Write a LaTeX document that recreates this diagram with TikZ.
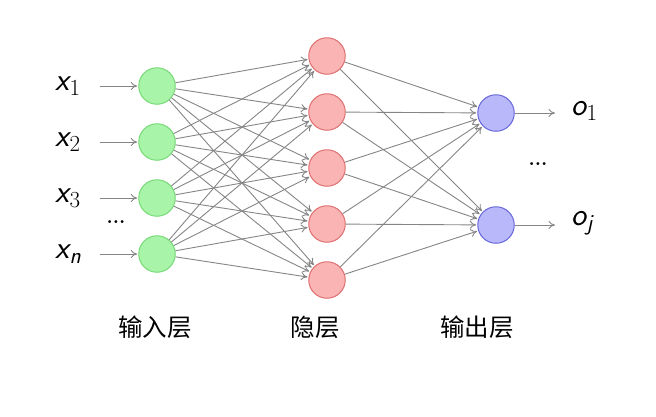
\documentclass[tikz,border=0pt]{standalone}
\usepackage{fontspec}
\newfontfamily\cjk{Noto Sans CJK SC}
\usetikzlibrary{arrows.meta}
\definecolor{gfill}{HTML}{A8F4A8}
\definecolor{gdraw}{HTML}{78DA78}
\definecolor{rfill}{HTML}{FAB4B4}
\definecolor{rdraw}{HTML}{DE7070}
\definecolor{bfill}{HTML}{B8B8FA}
\definecolor{bdraw}{HTML}{6868DA}
\definecolor{edgegray}{HTML}{858585}
\newcommand\mysub[1]{\raisebox{-5pt}{\fontsize{23}{25}\selectfont #1}}
\newcommand\myvar[2]{{\sffamily\itshape #1}\kern0.5pt\mysub{#2}}
\begin{document}
\begin{tikzpicture}[x=1pt,y=-1pt,
  neuron/.style={circle,minimum size=36.5pt,inner sep=0pt,line width=1pt},
  inn/.style={neuron,fill=gfill,draw=gdraw},
  hid/.style={neuron,fill=rfill,draw=rdraw},
  outn/.style={neuron,fill=bfill,draw=bdraw},
  conn/.style={draw=edgegray,line width=0.9pt,-{To[length=6.5pt,width=8pt]},shorten >=1pt},
  lab/.style={font=\fontsize{32}{36}\selectfont,inner sep=0pt},
  layerlab/.style={font=\cjk\fontsize{24.5}{28}\selectfont,inner sep=0pt},
  dots/.style={font=\bfseries\fontsize{20}{22}\selectfont,inner sep=0pt}]
\useasboundingbox (0,0) rectangle (656,416);
% input layer
\foreach \i/\y in {1/86,2/142,3/198,4/254}{
  \node[inn] (i\i) at (157,\y) {};
}
% hidden layer
\foreach \i/\y in {1/56,2/112,3/168,4/224,5/280}{
  \node[hid] (h\i) at (327,\y) {};
}
% output layer
\node[outn] (o1) at (496,113) {};
\node[outn] (o2) at (496,225) {};
% input labels
\node[lab,anchor=west] (x1) at (55,86) {\myvar{x}{1}};
\node[lab,anchor=west] (x2) at (55,142) {\myvar{x}{2}};
\node[lab,anchor=west] (x3) at (55,198) {\myvar{x}{3}};
\node[lab,anchor=west] (xn) at (55,254) {\myvar{x}{\sffamily\itshape n}};
\node[dots] (idots) at (116,222) {...};
\foreach \i/\y in {1/86,2/142,3/198,4/254}{
  \coordinate (s\i) at (100,\y);
  \draw[conn] (s\i) -- (i\i);
}
% connections input->hidden
\foreach \i in {1,...,4}{
  \foreach \j in {1,...,5}{
    \draw[conn] (i\i) -- (h\j);
  }
}
% connections hidden->output
\foreach \j in {1,...,5}{
  \foreach \k in {1,2}{
    \draw[conn] (h\j) -- (o\k);
  }
}
% outputs
\coordinate (e1) at (555,113);
\coordinate (e2) at (555,225);
\draw[conn,shorten >=0pt] (o1) -- (e1);
\draw[conn,shorten >=0pt] (o2) -- (e2);
\node[lab,anchor=west] (y1) at (571,111) {\myvar{o}{1}};
\node[lab,anchor=west] (y2) at (571,223) {\myvar{o}{\sffamily\itshape j}};
\node[dots] (odots) at (538,164) {...};
% layer labels
\node[layerlab] (L1) at (155,327) {输入层};
\node[layerlab] (L2) at (315,327) {隐层};
\node[layerlab] (L3) at (477,327) {输出层};
\end{tikzpicture}
\end{document}
